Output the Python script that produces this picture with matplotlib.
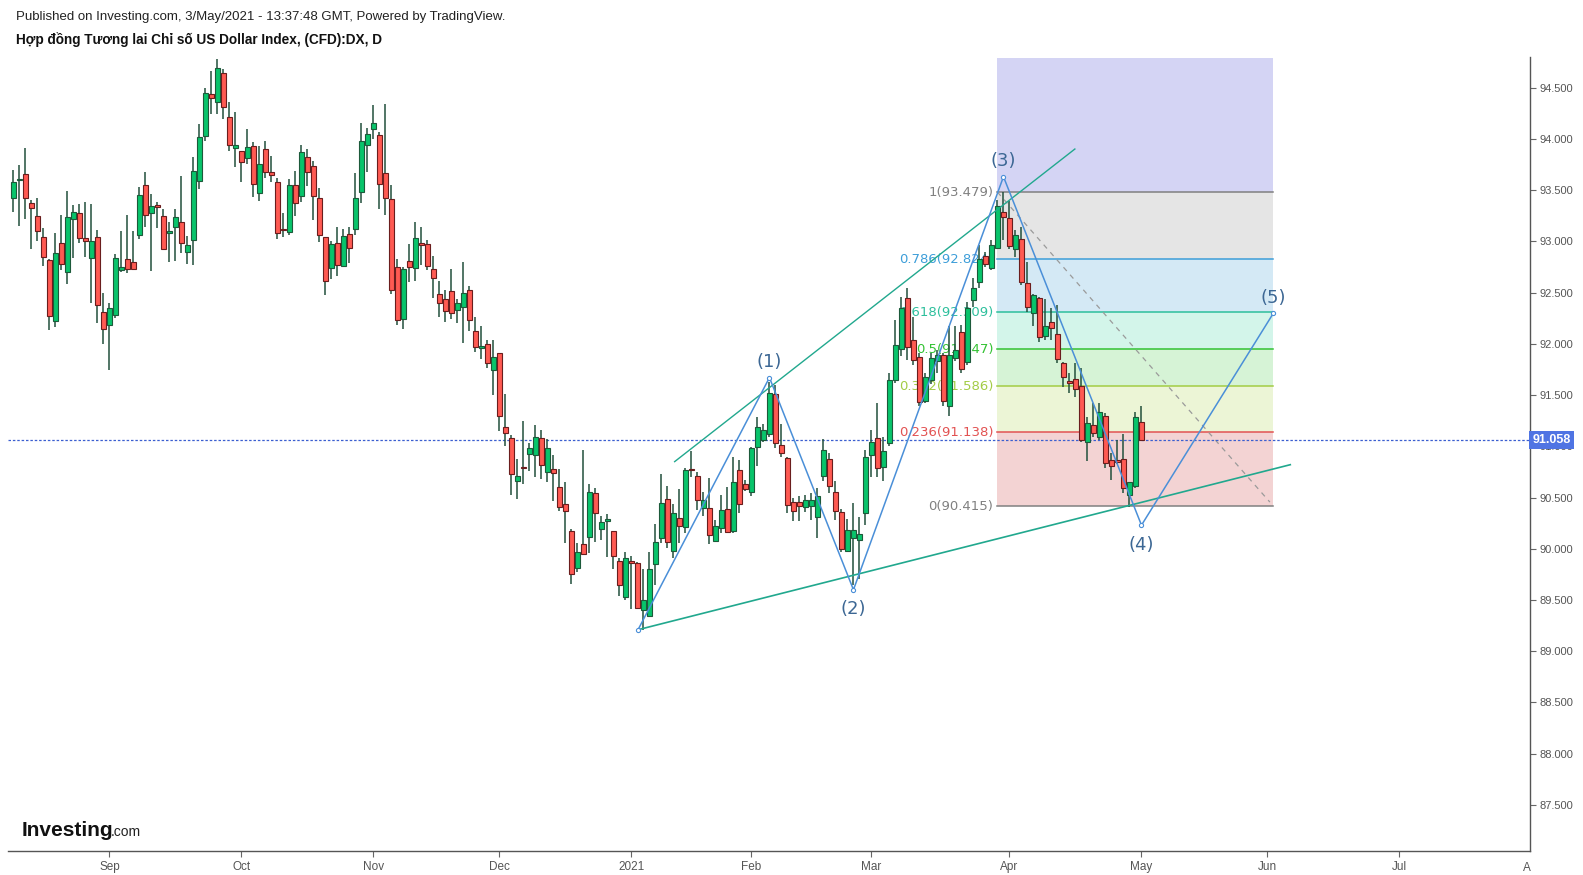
import matplotlib
matplotlib.use("Agg")
import matplotlib.pyplot as plt
import matplotlib.transforms as mtransforms
import numpy as np
import pandas as pd

# daily bars (weekdays, no Christmas / New Year's Day), first bar 10 Aug 2020
holidays = ["2020-12-25", "2021-01-01"]
dates = pd.bdate_range("2020-08-10", "2021-08-31")
dates = dates[~dates.isin(pd.to_datetime(holidays))]

opens = [93.42, 93.60, 93.66, 93.37, 93.25, 93.04, 92.82, 92.22, 92.98, 92.70,
         93.22, 93.28, 93.03, 92.84, 93.04, 92.31, 92.18, 92.28, 92.72, 92.83,
         92.80, 93.06, 93.55, 93.28, 93.35, 93.25, 93.08, 93.14, 93.19, 92.90,
         93.01, 93.59, 94.03, 94.44, 94.36, 94.64, 94.21, 93.91, 93.88, 93.81,
         93.93, 93.47, 93.90, 93.68, 93.58, 93.12, 93.09, 93.55, 93.44, 93.82,
         93.73, 93.42, 93.04, 92.74, 92.98, 92.76, 93.07, 93.12, 93.48, 93.94,
         94.10, 94.04, 93.67, 93.41, 92.75, 92.24, 92.81, 92.74, 92.98, 92.97,
         92.73, 92.49, 92.44, 92.51, 92.33, 92.36, 92.52, 92.12, 91.96, 92.00,
         91.74, 91.91, 91.19, 91.08, 90.66, 90.80, 90.92, 90.91, 91.08, 90.75,
         90.78, 90.60, 90.44, 90.17, 89.81, 90.05, 90.11, 90.54, 90.19, 90.27,
         90.17, 89.88, 89.53, 89.88, 89.86, 89.40, 89.34, 89.85, 90.10, 90.49,
         89.98, 90.30, 90.21, 90.78, 90.71, 90.40, 90.40, 90.08, 90.20, 90.39,
         90.17, 90.77, 90.63, 90.55, 90.99, 91.06, 91.12, 91.51, 91.01, 90.89,
         90.46, 90.46, 90.41, 90.42, 90.31, 90.71, 90.88, 90.55, 90.36, 89.98,
         90.10, 90.09, 90.35, 90.91, 91.08, 90.80, 91.03, 91.65, 91.95, 92.45,
         92.04, 91.87, 91.44, 91.65, 91.83, 91.89, 91.39, 91.86, 92.11, 91.82,
         92.43, 92.60, 92.86, 92.74, 92.93, 93.29, 93.23, 92.92, 93.02, 92.59,
         92.30, 92.45, 92.08, 92.21, 92.10, 91.81, 91.64, 91.66, 91.59, 91.04,
         91.21, 91.09, 91.30, 90.87, 90.87, 90.88, 90.52, 90.61, 91.24]
highs = [93.70, 93.74, 93.91, 93.40, 93.42, 93.13, 92.83, 93.08, 93.26, 93.49,
         93.35, 93.36, 93.38, 93.36, 93.11, 92.50, 92.40, 92.88, 93.10, 93.26,
         93.10, 93.53, 93.68, 93.46, 93.38, 93.31, 93.19, 93.31, 93.64, 93.05,
         93.82, 94.14, 94.50, 94.66, 94.78, 94.68, 94.36, 94.26, 93.88, 94.10,
         93.97, 93.93, 93.98, 93.83, 93.62, 93.28, 93.61, 93.69, 93.94, 93.90,
         93.78, 93.52, 93.04, 93.00, 93.14, 93.12, 93.14, 93.67, 94.15, 94.11,
         94.33, 94.07, 94.34, 93.55, 92.83, 92.75, 92.97, 93.19, 93.14, 93.01,
         92.86, 92.61, 92.52, 92.73, 92.44, 92.80, 92.56, 92.26, 92.17, 92.04,
         92.04, 91.91, 91.51, 91.11, 90.88, 91.25, 91.03, 91.21, 91.16, 91.07,
         90.91, 90.78, 90.65, 90.19, 90.06, 90.96, 90.63, 90.59, 90.32, 90.34,
         90.17, 89.91, 89.97, 89.93, 89.87, 89.80, 89.97, 90.24, 90.73, 90.61,
         90.44, 90.58, 90.79, 90.95, 90.75, 90.55, 90.69, 90.28, 90.52, 90.60,
         90.90, 90.87, 90.67, 90.99, 91.29, 91.22, 91.63, 91.60, 91.22, 90.90,
         90.50, 90.51, 90.52, 90.54, 90.59, 91.07, 90.93, 90.66, 90.39, 90.29,
         90.45, 90.31, 90.96, 91.16, 91.42, 91.09, 91.71, 92.23, 92.46, 92.54,
         92.26, 91.91, 91.71, 91.91, 91.94, 91.91, 92.17, 92.17, 92.18, 92.41,
         92.64, 92.96, 92.90, 93.01, 93.40, 93.48, 93.39, 93.11, 93.14, 92.80,
         92.49, 92.46, 92.44, 92.35, 92.38, 91.82, 91.71, 91.81, 91.76, 91.29,
         91.42, 91.42, 91.32, 90.93, 91.06, 91.12, 90.65, 91.33, 91.39]
lows = [93.29, 93.15, 93.22, 92.92, 93.00, 92.76, 92.13, 92.16, 92.72, 92.58,
        92.84, 92.98, 92.85, 92.40, 92.20, 92.00, 91.74, 92.25, 92.70, 92.69,
        92.73, 93.02, 93.14, 92.71, 93.13, 92.92, 92.80, 92.81, 92.89, 92.78,
        92.77, 93.51, 93.98, 94.24, 94.24, 94.19, 93.88, 93.72, 93.58, 93.75,
        93.43, 93.39, 93.62, 93.58, 93.02, 93.04, 93.06, 93.25, 93.38, 93.54,
        93.21, 92.99, 92.48, 92.63, 92.66, 92.75, 92.79, 93.06, 93.37, 93.68,
        94.00, 93.31, 93.26, 92.49, 92.18, 92.14, 92.60, 92.61, 92.77, 92.72,
        92.45, 92.26, 92.21, 92.24, 92.20, 92.01, 92.12, 91.92, 91.85, 91.76,
        91.50, 91.15, 91.00, 90.52, 90.49, 90.63, 90.76, 90.70, 90.68, 90.65,
        90.47, 90.37, 90.06, 89.66, 89.77, 89.94, 89.96, 90.07, 90.09, 89.92,
        89.80, 89.54, 89.50, 89.41, 89.41, 89.21, 89.33, 89.65, 90.06, 90.01,
        89.91, 90.06, 90.15, 90.70, 90.38, 90.32, 90.05, 90.07, 90.15, 90.15,
        90.15, 90.35, 90.56, 90.51, 90.81, 91.04, 91.09, 90.98, 90.90, 90.35,
        90.27, 90.27, 90.36, 90.28, 90.10, 90.66, 90.54, 90.28, 89.97, 89.97,
        89.65, 89.70, 90.23, 90.70, 90.70, 90.66, 91.00, 91.62, 91.88, 91.84,
        91.79, 91.39, 91.42, 91.61, 91.71, 91.39, 91.30, 91.83, 91.71, 91.79,
        92.36, 92.54, 92.75, 92.72, 92.92, 93.01, 92.92, 92.85, 92.57, 92.31,
        92.17, 92.02, 92.04, 92.04, 91.81, 91.58, 91.52, 91.48, 91.04, 90.86,
        91.09, 91.06, 90.79, 90.67, 90.83, 90.54, 90.41, 90.59, 91.05]
closes = [93.58, 93.61, 93.42, 93.32, 93.10, 92.85, 92.27, 92.89, 92.78, 93.24,
          93.29, 93.03, 93.00, 93.00, 92.38, 92.14, 92.35, 92.84, 92.75, 92.73,
          92.73, 93.45, 93.26, 93.34, 93.33, 92.92, 93.10, 93.24, 92.98, 92.96,
          93.69, 94.02, 94.45, 94.40, 94.69, 94.31, 93.94, 93.94, 93.77, 93.92,
          93.56, 93.75, 93.68, 93.65, 93.08, 93.11, 93.55, 93.37, 93.87, 93.68,
          93.44, 93.06, 92.61, 92.97, 92.77, 93.05, 92.93, 93.42, 93.98, 94.05,
          94.15, 93.56, 93.42, 92.52, 92.23, 92.73, 92.75, 93.03, 92.96, 92.76,
          92.64, 92.40, 92.32, 92.30, 92.40, 92.50, 92.23, 91.97, 91.98, 91.81,
          91.87, 91.30, 91.13, 90.73, 90.71, 90.79, 90.98, 91.09, 90.82, 90.98,
          90.74, 90.41, 90.37, 89.75, 89.97, 89.95, 90.55, 90.35, 90.26, 90.29,
          89.93, 89.65, 89.91, 89.86, 89.42, 89.50, 89.80, 90.07, 90.45, 90.07,
          90.35, 90.22, 90.77, 90.77, 90.48, 90.48, 90.13, 90.22, 90.38, 90.16,
          90.65, 90.44, 90.58, 90.98, 91.19, 91.16, 91.52, 91.03, 90.93, 90.43,
          90.37, 90.42, 90.48, 90.48, 90.51, 90.96, 90.61, 90.37, 90.00, 90.18,
          90.18, 90.14, 90.90, 91.04, 90.79, 90.95, 91.65, 91.99, 92.35, 91.97,
          91.84, 91.43, 91.68, 91.86, 91.89, 91.44, 91.89, 91.94, 91.75, 92.35,
          92.54, 92.83, 92.78, 92.96, 93.34, 93.24, 92.95, 93.06, 92.60, 92.36,
          92.48, 92.07, 92.17, 92.15, 91.85, 91.68, 91.62, 91.56, 91.06, 91.23,
          91.13, 91.33, 90.84, 90.81, 90.85, 90.59, 90.65, 91.29, 91.06]
last_price = 91.058

# Elliott wave drawing (bar index, price)
wave_x = [104.1, 126.0, 140.0, 165.0, 188.0, 210.0]
wave_y = [89.21, 91.67, 89.60, 93.63, 90.23, 92.30]
wave_labels = ["(1)", "(2)", "(3)", "(4)", "(5)"]

# channel lines
upper_x = [110.2, 176.9]
upper_y = [90.85, 93.90]
lower_x = [104.1, 212.8]
lower_y = [89.21, 90.82]

# fib retracement
fib_hi, fib_lo = 93.4794, 90.4152
fib_x0, fib_x1 = 164.0, 210.0
fib_levels = [0, 0.236, 0.382, 0.5, 0.618, 0.786, 1, 1.618]
fib_line_colors = ["#808080", "#e25252", "#a3cc45", "#33c233", "#2dbf9c",
                   "#3d9ed9", "#808080", "#7b7bd8"]
fib_fill_colors = ["#f3d3d3", "#ecf5d6", "#d6f3d6", "#d3f5ea", "#d4e9f5",
                   "#e5e5e5", "#d4d4f4"]

fig = plt.figure(figsize=(15.83, 8.75), dpi=100)
ax = fig.add_axes([8 / 1583, 24 / 875, 1522 / 1583, 793.5 / 875])

o = np.array(opens)
h = np.array(highs)
l = np.array(lows)
c = np.array(closes)
bx = np.arange(len(c))
up = c >= o
body_lo = np.minimum(o, c)
body_h = np.maximum(np.abs(c - o), 0.012)

# fib zones
fib_prices = [fib_lo + lv * (fib_hi - fib_lo) for lv in fib_levels]
for i in range(len(fib_levels) - 1):
    ax.fill_between([fib_x0, fib_x1], fib_prices[i], fib_prices[i + 1],
                    color=fib_fill_colors[i], lw=0, zorder=0.5)
for lv, p, col in zip(fib_levels[:-1], fib_prices[:-1], fib_line_colors[:-1]):
    ax.plot([fib_x0, fib_x1], [p, p], color=col, lw=1.1, zorder=1)
    ax.text(fib_x0 - 0.7, p, f"{lv:g}({p:.3f})", color=col, fontsize=9.5,
            ha="right", va="center", family="DejaVu Sans", zorder=1.2)
ax.plot([fib_x0, fib_x1 - 0.6], [fib_hi, fib_lo + 0.04], color="#9a9a9a",
        lw=0.9, ls=(0, (4, 4)), zorder=1.3)

# last price line
ax.axhline(last_price, color="#3b5fd0", lw=0.9, ls=(0, (2, 1.5)), zorder=2)

# candles
ax.vlines(bx, l, h, color="#22503c", lw=1.1, zorder=3)
ax.bar(bx[up], body_h[up], 0.7, bottom=body_lo[up], color="#08c46b",
       edgecolor="#1c5a3a", lw=0.8, zorder=3.5)
ax.bar(bx[~up], body_h[~up], 0.7, bottom=body_lo[~up], color="#ff5a52",
       edgecolor="#6a1d1d", lw=0.8, zorder=3.5)

# channel and wave
ax.plot(upper_x, upper_y, color="#21a88e", lw=1.0, zorder=5)
ax.plot(lower_x, lower_y, color="#21a88e", lw=1.2, zorder=5)
ax.plot(wave_x, wave_y, color="#4a8fd8", lw=1.1, zorder=5.2)
ax.plot(wave_x, wave_y, ls="none", marker="o", ms=3, mfc="white",
        mec="#4a8fd8", mew=0.8, zorder=5.3)
for k, lab in enumerate(wave_labels):
    top = k % 2 == 0
    ax.annotate(lab, (wave_x[k + 1], wave_y[k + 1]),
                xytext=(0, 11 if top else -14), textcoords="offset points",
                ha="center", va="center", fontsize=13, color="#3c6794",
                family="DejaVu Sans", zorder=6)

# axes look
ax.set_xlim(-0.9, 252.75)
ax.set_ylim(87.051, 94.793)
for s in ["left", "top"]:
    ax.spines[s].set_visible(False)
for s in ["right", "bottom"]:
    ax.spines[s].set_color("#555555")
    ax.spines[s].set_linewidth(1.0)

ax.yaxis.tick_right()
ax.set_yticks(np.arange(87.5, 94.51, 0.5))
ax.yaxis.set_major_formatter(matplotlib.ticker.FormatStrFormatter("%.3f"))
ax.tick_params(axis="y", colors="#666666", labelcolor="#555555",
               labelsize=8, length=4, width=0.8, pad=3)
for t in ax.get_yticklabels():
    t.set_family("Liberation Sans")

# first bar of each month -> tick
month_idx = []
month_lab = []
prev = None
for i, d in enumerate(dates):
    key = (d.year, d.month)
    if key != prev:
        if 0 < i <= 252.75:
            month_idx.append(i)
            month_lab.append("2021" if (d.year == 2021 and d.month == 1)
                             else d.strftime("%b"))
        prev = key
ax.set_xticks(month_idx)
ax.set_xticklabels(month_lab, family="Liberation Sans")
ax.tick_params(axis="x", colors="#666666", labelcolor="#555555",
               labelsize=8.5, length=4, width=0.8, pad=3)
ax.text(252.25, -0.014, "A", transform=mtransforms.blended_transform_factory(
    ax.transData, ax.transAxes), ha="center", va="top", fontsize=8.5,
    color="#555555", family="Liberation Sans", clip_on=False)

# last price tag
ax.text(1.0015, last_price, "91.058", transform=mtransforms.blended_transform_factory(
    ax.transAxes, ax.transData), ha="left", va="center", fontsize=9,
    fontweight="bold", color="white", family="Liberation Sans", zorder=10,
    clip_on=False, bbox=dict(boxstyle="square,pad=0.25", facecolor="#4f74e3",
                             edgecolor="none"))

# header
fig.text(16 / 1583, 1 - 17 / 875,
         "Published on Investing.com, 3/May/2021 - 13:37:48 GMT, Powered by TradingView.",
         fontsize=9.5, color="#222222", family="Liberation Sans", va="center")
fig.text(16 / 1583, 1 - 39.5 / 875,
         "Hợp đồng Tương lai Chỉ số US Dollar Index, (CFD):DX, D",
         fontsize=9.8, fontweight="bold", color="#111111",
         family="Liberation Sans", va="center")

# logo
fig.text(22 / 1583, 1 - 835.7 / 875, "Investing", fontsize=15, fontweight="bold",
         color="#111111", family="Liberation Sans", va="baseline")
fig.text(111 / 1583, 1 - 835.7 / 875, ".com", fontsize=10, color="#222222",
         family="Liberation Sans", va="baseline")

fig.savefig("out.png", dpi=100)
